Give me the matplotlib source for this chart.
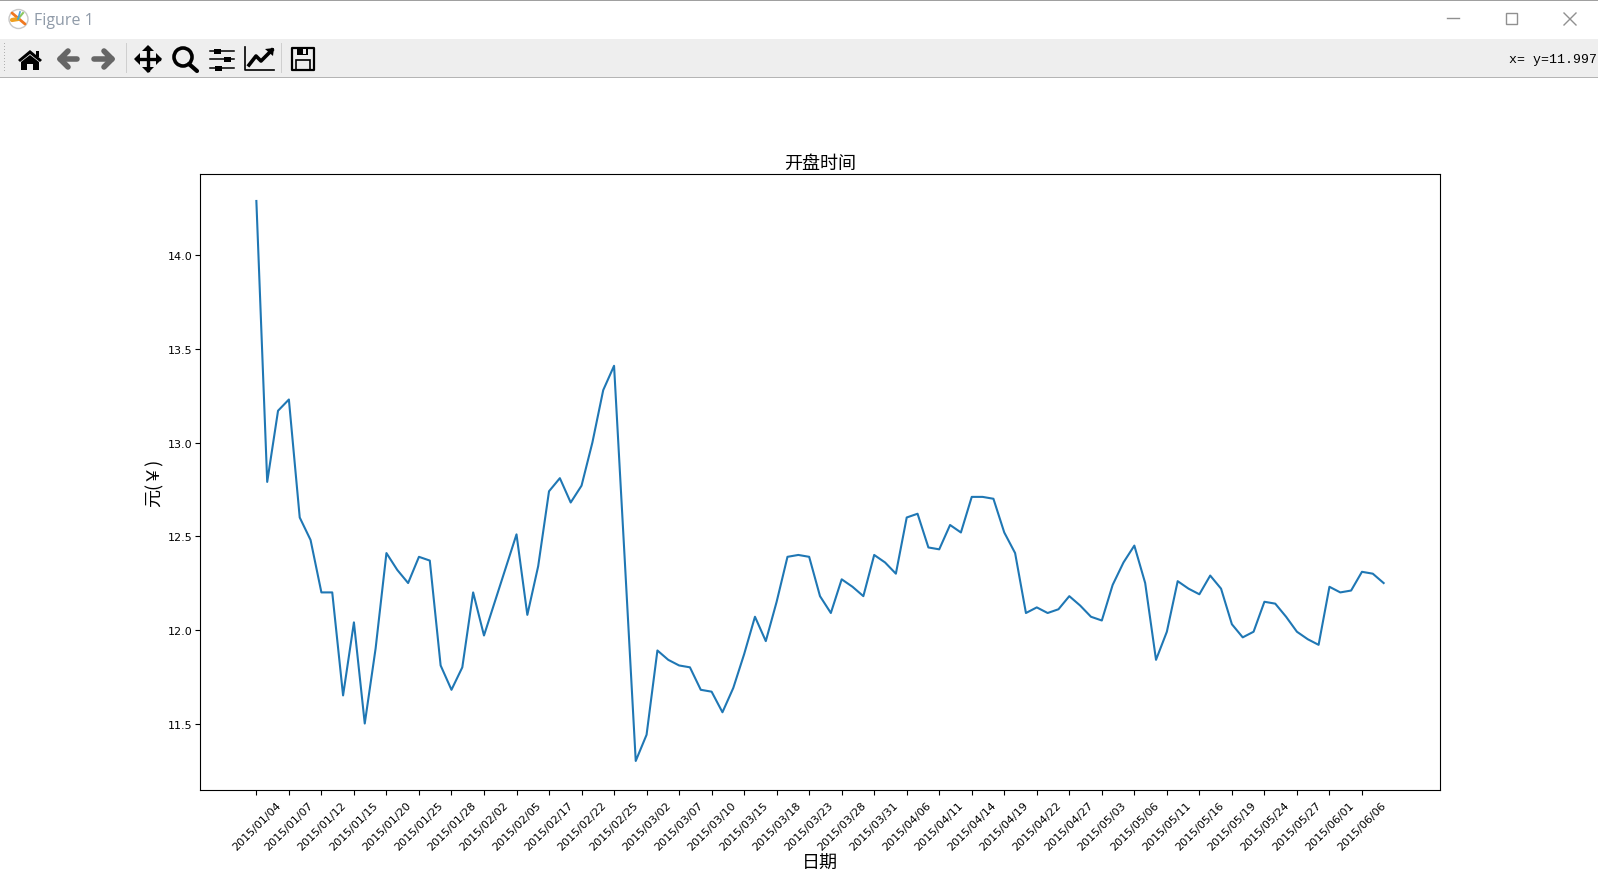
import matplotlib
matplotlib.use("Agg")
import matplotlib.pyplot as plt
from matplotlib.patches import Circle, Polygon, Rectangle

plt.rcParams['font.family'] = ['Noto Sans CJK SC', 'DejaVu Sans']

# opening price, one value per trading day
open_price = [14.29, 12.79, 13.17, 13.23, 12.60, 12.48, 12.20, 12.20, 11.65, 12.04,
              11.50, 11.90, 12.41, 12.32, 12.25, 12.39, 12.37, 11.81, 11.68, 11.80,
              12.20, 11.97, 12.15, 12.33, 12.51, 12.08, 12.34, 12.74, 12.81, 12.68,
              12.77, 13.00, 13.28, 13.41, 12.36, 11.30, 11.44, 11.89, 11.84, 11.81,
              11.80, 11.68, 11.67, 11.56, 11.69, 11.87, 12.07, 11.94, 12.15, 12.39,
              12.40, 12.39, 12.18, 12.09, 12.27, 12.23, 12.18, 12.40, 12.36, 12.30,
              12.60, 12.62, 12.44, 12.43, 12.56, 12.52, 12.71, 12.71, 12.70, 12.52,
              12.41, 12.09, 12.12, 12.09, 12.11, 12.18, 12.13, 12.07, 12.05, 12.24,
              12.36, 12.45, 12.25, 11.84, 11.99, 12.26, 12.22, 12.19, 12.29, 12.22,
              12.03, 11.96, 11.99, 12.15, 12.14, 12.07, 11.99, 11.95, 11.92, 12.23,
              12.20, 12.21, 12.31, 12.30, 12.25]

# every third trading day gets a label
date_labels = ['2015/01/04', '2015/01/07', '2015/01/12', '2015/01/15', '2015/01/20',
               '2015/01/25', '2015/01/28', '2015/02/02', '2015/02/05', '2015/02/17',
               '2015/02/22', '2015/02/25', '2015/03/02', '2015/03/07', '2015/03/10',
               '2015/03/15', '2015/03/18', '2015/03/23', '2015/03/28', '2015/03/31',
               '2015/04/06', '2015/04/11', '2015/04/14', '2015/04/19', '2015/04/22',
               '2015/04/27', '2015/05/03', '2015/05/06', '2015/05/11', '2015/05/16',
               '2015/05/19', '2015/05/24', '2015/05/27', '2015/06/01', '2015/06/06']

W, H = 1598, 878
fig = plt.figure(figsize=(W / 100, H / 100), dpi=100, facecolor='white')

# window frame and toolbar, in pixel coordinates
ui = fig.add_axes([0, 0, 1, 1], zorder=0)
ui.set_xlim(0, W)
ui.set_ylim(H - 1, -1)
ui.axis('off')

ui.add_patch(Rectangle((0, -1), W, 2.2, color='#a0a0a0', lw=0))
ui.add_patch(Rectangle((0, 39), W, 38, color='#eeeeee', lw=0))
ui.add_patch(Rectangle((0, 77), W, 1, color='#b4b4b4', lw=0))
for sx in [126, 281]:
    ui.add_patch(Rectangle((sx, 43), 1, 30, color='#cfcfcf', lw=0))
for gy in range(43, 72, 3):
    ui.add_patch(Rectangle((4, gy), 1.4, 1.4, color='#b0b0b0', lw=0))

# title bar
ui.add_patch(Circle((18.5, 19), 9.5, fc='white', ec='#c8c8c8', lw=1))
ui.plot([12, 25], [13, 24], color='#f07820', lw=2, solid_capstyle='round')
ui.plot([12, 18], [20, 19], color='#f0a020', lw=3, solid_capstyle='round')
ui.plot([18, 23], [19, 13], color='#8cc860', lw=1.5)
ui.plot([18, 20], [19, 12], color='#4aa0d8', lw=1.2)
ui.text(34, 20, 'Figure 1', fontsize=11.5, color='#8f9aa8', va='center',
        family=['Open Sans', 'DejaVu Sans'])
ui.plot([1447, 1459], [18, 18], color='#909090', lw=1)
ui.add_patch(Rectangle((1505.5, 13), 11, 11, fc='none', ec='#909090', lw=1))
ui.plot([1564, 1576], [13, 25], color='#909090', lw=1)
ui.plot([1564, 1576], [25, 13], color='#909090', lw=1)

# home
ui.add_patch(Polygon([(18, 60), (30, 50), (42, 60), (40, 62), (30, 54), (20, 62)], color='black', lw=0))
ui.add_patch(Polygon([(21, 62), (30, 55), (39, 62), (39, 70), (33, 70), (33, 64), (27, 64), (27, 70), (21, 70)],
                     color='black', lw=0))
ui.add_patch(Rectangle((36, 51), 3, 6, color='black', lw=0))
# back and forward
ui.plot([77, 60, 68], [59, 59, 51], color='#666666', lw=4, solid_capstyle='round', solid_joinstyle='round')
ui.plot([60, 68], [59, 67], color='#666666', lw=4, solid_capstyle='round')
ui.plot([94, 112, 104], [59, 59, 51], color='#666666', lw=4, solid_capstyle='round', solid_joinstyle='round')
ui.plot([112, 104], [59, 67], color='#666666', lw=4, solid_capstyle='round')
# move
ui.plot([137, 159], [59, 59], color='black', lw=2.4)
ui.plot([148, 148], [48, 70], color='black', lw=2.4)
ui.add_patch(Polygon([(134, 59), (140, 53), (140, 65)], color='black', lw=0))
ui.add_patch(Polygon([(162, 59), (156, 53), (156, 65)], color='black', lw=0))
ui.add_patch(Polygon([(148, 45), (142, 51), (154, 51)], color='black', lw=0))
ui.add_patch(Polygon([(148, 73), (142, 67), (154, 67)], color='black', lw=0))
# zoom
ui.add_patch(Circle((183, 57), 9, fc='none', ec='black', lw=2.6))
ui.plot([189, 197], [64, 71], color='black', lw=3, solid_capstyle='round')
# sliders
for ly, kx in [(51, 217), (59, 227), (68, 218)]:
    ui.plot([210, 234], [ly, ly], color='black', lw=1.1)
    ui.add_patch(Rectangle((kx - 3.5, ly - 2.5), 7, 5, color='black', lw=0))
# line chart
ui.plot([245, 245, 274], [47, 70, 70], color='black', lw=1.2)
ui.plot([249, 256, 261, 272], [65, 56, 61, 50], color='black', lw=2.6)
ui.add_patch(Polygon([(265, 49), (274, 48), (273, 56)], color='black', lw=0))
# save
ui.add_patch(Rectangle((292, 48), 22, 22, fc='none', ec='black', lw=1.6, joinstyle='round'))
ui.add_patch(Rectangle((297, 48), 11, 7, fc='black', ec='none'))
ui.add_patch(Rectangle((303, 49), 3, 5, fc='#eeeeee', ec='none'))
ui.add_patch(Rectangle((296, 60), 14, 10, fc='none', ec='black', lw=1.2))

ui.text(1597, 59.5, 'x= y=11.997', fontsize=9.5, va='center', ha='right', color='black',
        family=['Liberation Mono', 'DejaVu Sans Mono'])

# the chart itself
ax = fig.add_axes([200 / W, (H - 791) / H, 1240 / W, 616 / H], zorder=1)
ax.plot(range(len(open_price)), open_price)
ax.set_xticks(range(0, len(open_price), 3))
ax.set_xticklabels(date_labels, rotation=45, fontsize=8, family='DejaVu Sans')
ax.set_ylim(11.145, 14.434)
ax.tick_params(axis='y', labelsize=8, pad=2)
for lab in ax.get_yticklabels():
    lab.set_family('DejaVu Sans')
ax.set_title('开盘时间', fontsize=13, pad=4.5)
ax.set_xlabel('日期', fontsize=13, labelpad=1.5)
ax.set_ylabel('元(￥)', fontsize=13, labelpad=3)

fig.savefig('out.png', dpi=100)
